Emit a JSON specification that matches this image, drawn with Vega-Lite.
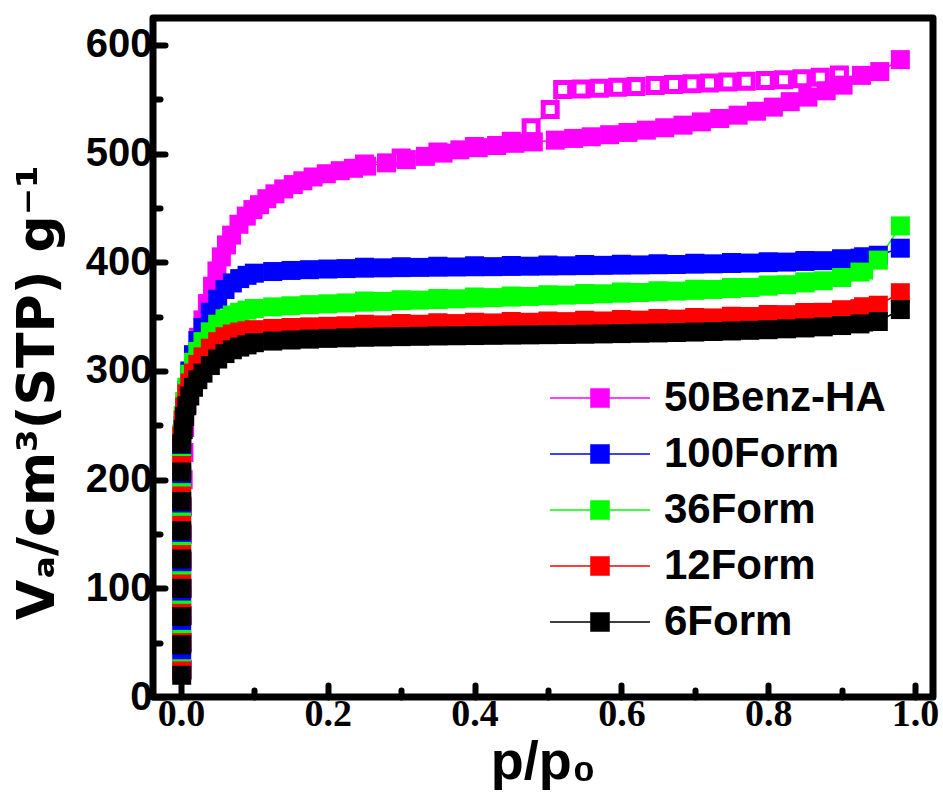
{
  "$schema": "https://vega.github.io/schema/vega-lite/v6.json",
  "width": 780,
  "height": 679,
  "autosize": "none",
  "padding": {"left": 153, "top": 18, "right": 10, "bottom": 98},
  "background": "white",
  "config": {
    "font": "Liberation Sans",
    "view": {"stroke": "black", "strokeWidth": 7, "strokeJoin": "round"},
    "axis": {
      "grid": false,
      "domain": false,
      "tickColor": "black",
      "tickWidth": 6,
      "tickCap": "round",
      "labelFont": "Liberation Sans",
      "labelFontWeight": "bold",
      "labelFontSize": 40,
      "labelColor": "black",
      "titleFont": "Liberation Sans",
      "titleFontWeight": "bold",
      "titleColor": "black",
      "titleFontSize": 54
    }
  },
  "datasets": {
    "iso": [
      {"s":"50Benz-HA","b":"des","x":0.25,"y":490.5},{"s":"50Benz-HA","b":"des","x":0.3,"y":496},{"s":"50Benz-HA","b":"des","x":0.35,"y":501.5},{"s":"50Benz-HA","b":"des","x":0.4,"y":506.5},{"s":"50Benz-HA","b":"des","x":0.45,"y":511.5},{"s":"50Benz-HA","b":"des","x":0.477,"y":523.8},{"s":"50Benz-HA","b":"des","x":0.503,"y":540.7},{"s":"50Benz-HA","b":"des","x":0.52,"y":559},{"s":"50Benz-HA","b":"des","x":0.545,"y":559.5},{"s":"50Benz-HA","b":"des","x":0.57,"y":560.2},{"s":"50Benz-HA","b":"des","x":0.595,"y":561},{"s":"50Benz-HA","b":"des","x":0.62,"y":561.8},{"s":"50Benz-HA","b":"des","x":0.646,"y":562.6},{"s":"50Benz-HA","b":"des","x":0.671,"y":563.5},{"s":"50Benz-HA","b":"des","x":0.696,"y":564.4},{"s":"50Benz-HA","b":"des","x":0.72,"y":565.1},{"s":"50Benz-HA","b":"des","x":0.745,"y":565.8},{"s":"50Benz-HA","b":"des","x":0.77,"y":566.5},{"s":"50Benz-HA","b":"des","x":0.796,"y":567.3},{"s":"50Benz-HA","b":"des","x":0.821,"y":568},{"s":"50Benz-HA","b":"des","x":0.846,"y":568.8},{"s":"50Benz-HA","b":"des","x":0.871,"y":570.2},{"s":"50Benz-HA","b":"des","x":0.897,"y":572.3},
      {"s":"100Form","b":"des","x":0.25,"y":395.5},{"s":"100Form","b":"des","x":0.3,"y":396},{"s":"100Form","b":"des","x":0.35,"y":396.4},{"s":"100Form","b":"des","x":0.4,"y":396.8},{"s":"100Form","b":"des","x":0.45,"y":397.1},{"s":"100Form","b":"des","x":0.5,"y":397.5},{"s":"100Form","b":"des","x":0.55,"y":397.9},{"s":"100Form","b":"des","x":0.6,"y":398.3},{"s":"100Form","b":"des","x":0.65,"y":398.7},{"s":"100Form","b":"des","x":0.7,"y":399.2},{"s":"100Form","b":"des","x":0.75,"y":399.8},{"s":"100Form","b":"des","x":0.8,"y":400.6},{"s":"100Form","b":"des","x":0.85,"y":401.7},{"s":"100Form","b":"des","x":0.9,"y":403.3},{"s":"100Form","b":"des","x":0.93,"y":405},
      {"s":"36Form","b":"des","x":0.25,"y":364.3},{"s":"36Form","b":"des","x":0.3,"y":365.6},{"s":"36Form","b":"des","x":0.35,"y":366.8},{"s":"36Form","b":"des","x":0.4,"y":368},{"s":"36Form","b":"des","x":0.45,"y":369},{"s":"36Form","b":"des","x":0.5,"y":370.2},{"s":"36Form","b":"des","x":0.55,"y":371.4},{"s":"36Form","b":"des","x":0.6,"y":372.6},{"s":"36Form","b":"des","x":0.65,"y":373.8},{"s":"36Form","b":"des","x":0.7,"y":375.2},{"s":"36Form","b":"des","x":0.75,"y":376.8},{"s":"36Form","b":"des","x":0.8,"y":379},{"s":"36Form","b":"des","x":0.85,"y":382},{"s":"36Form","b":"des","x":0.9,"y":387},{"s":"36Form","b":"des","x":0.93,"y":393},
      {"s":"12Form","b":"des","x":0.25,"y":343},{"s":"12Form","b":"des","x":0.3,"y":343.7},{"s":"12Form","b":"des","x":0.35,"y":344.3},{"s":"12Form","b":"des","x":0.4,"y":344.9},{"s":"12Form","b":"des","x":0.45,"y":345.5},{"s":"12Form","b":"des","x":0.5,"y":346.1},{"s":"12Form","b":"des","x":0.55,"y":346.7},{"s":"12Form","b":"des","x":0.6,"y":347.4},{"s":"12Form","b":"des","x":0.65,"y":348.2},{"s":"12Form","b":"des","x":0.7,"y":349.2},{"s":"12Form","b":"des","x":0.75,"y":350.4},{"s":"12Form","b":"des","x":0.8,"y":351.9},{"s":"12Form","b":"des","x":0.85,"y":353.8},{"s":"12Form","b":"des","x":0.9,"y":356.4},{"s":"12Form","b":"des","x":0.93,"y":359},
      {"s":"6Form","b":"des","x":0.25,"y":332},{"s":"6Form","b":"des","x":0.3,"y":332.6},{"s":"6Form","b":"des","x":0.35,"y":333.2},{"s":"6Form","b":"des","x":0.4,"y":333.6},{"s":"6Form","b":"des","x":0.45,"y":334},{"s":"6Form","b":"des","x":0.5,"y":334.4},{"s":"6Form","b":"des","x":0.55,"y":334.8},{"s":"6Form","b":"des","x":0.6,"y":335.4},{"s":"6Form","b":"des","x":0.65,"y":336},{"s":"6Form","b":"des","x":0.7,"y":336.8},{"s":"6Form","b":"des","x":0.75,"y":337.8},{"s":"6Form","b":"des","x":0.8,"y":339},{"s":"6Form","b":"des","x":0.85,"y":340.6},{"s":"6Form","b":"des","x":0.9,"y":342.8},{"s":"6Form","b":"des","x":0.93,"y":345},

      {"s":"50Benz-HA","b":"ads","x":0.002,"y":25},{"s":"50Benz-HA","b":"ads","x":0.002,"y":50},{"s":"50Benz-HA","b":"ads","x":0.002,"y":75},{"s":"50Benz-HA","b":"ads","x":0.002,"y":100},{"s":"50Benz-HA","b":"ads","x":0.002,"y":125},{"s":"50Benz-HA","b":"ads","x":0.002,"y":150},{"s":"50Benz-HA","b":"ads","x":0.002,"y":175},{"s":"50Benz-HA","b":"ads","x":0.003,"y":200},{"s":"50Benz-HA","b":"ads","x":0.004,"y":225},{"s":"50Benz-HA","b":"ads","x":0.005,"y":248},{"s":"50Benz-HA","b":"ads","x":0.008,"y":270},{"s":"50Benz-HA","b":"ads","x":0.012,"y":290},{"s":"50Benz-HA","b":"ads","x":0.018,"y":314},{"s":"50Benz-HA","b":"ads","x":0.024,"y":331},{"s":"50Benz-HA","b":"ads","x":0.03,"y":347},{"s":"50Benz-HA","b":"ads","x":0.036,"y":362},{"s":"50Benz-HA","b":"ads","x":0.043,"y":378},{"s":"50Benz-HA","b":"ads","x":0.049,"y":392},{"s":"50Benz-HA","b":"ads","x":0.055,"y":405},{"s":"50Benz-HA","b":"ads","x":0.062,"y":416},{"s":"50Benz-HA","b":"ads","x":0.069,"y":425},{"s":"50Benz-HA","b":"ads","x":0.079,"y":435},{"s":"50Benz-HA","b":"ads","x":0.089,"y":442.5},{"s":"50Benz-HA","b":"ads","x":0.098,"y":448.5},{"s":"50Benz-HA","b":"ads","x":0.107,"y":453},{"s":"50Benz-HA","b":"ads","x":0.117,"y":458.5},{"s":"50Benz-HA","b":"ads","x":0.128,"y":463},{"s":"50Benz-HA","b":"ads","x":0.14,"y":467.5},{"s":"50Benz-HA","b":"ads","x":0.153,"y":471.5},{"s":"50Benz-HA","b":"ads","x":0.166,"y":475},{"s":"50Benz-HA","b":"ads","x":0.18,"y":478.5},{"s":"50Benz-HA","b":"ads","x":0.198,"y":481.5},{"s":"50Benz-HA","b":"ads","x":0.217,"y":484.3},{"s":"50Benz-HA","b":"ads","x":0.235,"y":486.5},{"s":"50Benz-HA","b":"ads","x":0.253,"y":488.5},{"s":"50Benz-HA","b":"ads","x":0.28,"y":491.5},{"s":"50Benz-HA","b":"ads","x":0.307,"y":494.5},{"s":"50Benz-HA","b":"ads","x":0.333,"y":497.5},{"s":"50Benz-HA","b":"ads","x":0.357,"y":500.5},{"s":"50Benz-HA","b":"ads","x":0.38,"y":503.5},{"s":"50Benz-HA","b":"ads","x":0.405,"y":505.5},{"s":"50Benz-HA","b":"ads","x":0.43,"y":507.5},{"s":"50Benz-HA","b":"ads","x":0.455,"y":509.5},{"s":"50Benz-HA","b":"ads","x":0.48,"y":510.8},{"s":"50Benz-HA","b":"ads","x":0.51,"y":512.4},{"s":"50Benz-HA","b":"ads","x":0.535,"y":514},{"s":"50Benz-HA","b":"ads","x":0.559,"y":515.5},{"s":"50Benz-HA","b":"ads","x":0.584,"y":517.4},{"s":"50Benz-HA","b":"ads","x":0.609,"y":519.5},{"s":"50Benz-HA","b":"ads","x":0.634,"y":521.6},{"s":"50Benz-HA","b":"ads","x":0.659,"y":523.8},{"s":"50Benz-HA","b":"ads","x":0.684,"y":526.2},{"s":"50Benz-HA","b":"ads","x":0.709,"y":529.2},{"s":"50Benz-HA","b":"ads","x":0.734,"y":532.3},{"s":"50Benz-HA","b":"ads","x":0.759,"y":535.4},{"s":"50Benz-HA","b":"ads","x":0.784,"y":539},{"s":"50Benz-HA","b":"ads","x":0.807,"y":542.8},{"s":"50Benz-HA","b":"ads","x":0.83,"y":547.8},{"s":"50Benz-HA","b":"ads","x":0.854,"y":552},{"s":"50Benz-HA","b":"ads","x":0.879,"y":557.8},{"s":"50Benz-HA","b":"ads","x":0.902,"y":563},{"s":"50Benz-HA","b":"ads","x":0.927,"y":572},{"s":"50Benz-HA","b":"ads","x":0.952,"y":575.5},{"s":"50Benz-HA","b":"ads","x":0.98,"y":586.5},

      {"s":"100Form","b":"ads","x":0.001,"y":38},{"s":"100Form","b":"ads","x":0.001,"y":66},{"s":"100Form","b":"ads","x":0.001,"y":93},{"s":"100Form","b":"ads","x":0.001,"y":121},{"s":"100Form","b":"ads","x":0.001,"y":148},{"s":"100Form","b":"ads","x":0.001,"y":176},{"s":"100Form","b":"ads","x":0.001,"y":203},{"s":"100Form","b":"ads","x":0.001,"y":230},
      {"s":"100Form","b":"ads","x":0.003,"y":250},{"s":"100Form","b":"ads","x":0.005,"y":265},{"s":"100Form","b":"ads","x":0.008,"y":282},{"s":"100Form","b":"ads","x":0.012,"y":300},{"s":"100Form","b":"ads","x":0.017,"y":315},{"s":"100Form","b":"ads","x":0.023,"y":328},{"s":"100Form","b":"ads","x":0.03,"y":340},{"s":"100Form","b":"ads","x":0.04,"y":354},{"s":"100Form","b":"ads","x":0.05,"y":366},{"s":"100Form","b":"ads","x":0.06,"y":375},{"s":"100Form","b":"ads","x":0.07,"y":381},{"s":"100Form","b":"ads","x":0.08,"y":385},{"s":"100Form","b":"ads","x":0.09,"y":388},
      {"s":"100Form","b":"ads","x":0.1,"y":390},{"s":"100Form","b":"ads","x":0.125,"y":391.5},{"s":"100Form","b":"ads","x":0.15,"y":392.5},{"s":"100Form","b":"ads","x":0.175,"y":393.2},{"s":"100Form","b":"ads","x":0.2,"y":393.8},{"s":"100Form","b":"ads","x":0.225,"y":394.2},{"s":"100Form","b":"ads","x":0.25,"y":394.6},{"s":"100Form","b":"ads","x":0.275,"y":394.9},{"s":"100Form","b":"ads","x":0.3,"y":395.1},{"s":"100Form","b":"ads","x":0.325,"y":395.3},{"s":"100Form","b":"ads","x":0.35,"y":395.5},{"s":"100Form","b":"ads","x":0.375,"y":395.7},{"s":"100Form","b":"ads","x":0.4,"y":395.9},{"s":"100Form","b":"ads","x":0.425,"y":396},{"s":"100Form","b":"ads","x":0.45,"y":396.2},{"s":"100Form","b":"ads","x":0.475,"y":396.4},{"s":"100Form","b":"ads","x":0.5,"y":396.6},{"s":"100Form","b":"ads","x":0.525,"y":396.8},{"s":"100Form","b":"ads","x":0.55,"y":397},{"s":"100Form","b":"ads","x":0.575,"y":397.2},{"s":"100Form","b":"ads","x":0.6,"y":397.4},{"s":"100Form","b":"ads","x":0.625,"y":397.6},{"s":"100Form","b":"ads","x":0.65,"y":397.8},{"s":"100Form","b":"ads","x":0.675,"y":398},{"s":"100Form","b":"ads","x":0.7,"y":398.3},{"s":"100Form","b":"ads","x":0.725,"y":398.6},{"s":"100Form","b":"ads","x":0.75,"y":398.9},{"s":"100Form","b":"ads","x":0.775,"y":399.3},{"s":"100Form","b":"ads","x":0.8,"y":399.7},{"s":"100Form","b":"ads","x":0.825,"y":400.2},{"s":"100Form","b":"ads","x":0.85,"y":400.8},{"s":"100Form","b":"ads","x":0.875,"y":401.5},{"s":"100Form","b":"ads","x":0.9,"y":402.4},{"s":"100Form","b":"ads","x":0.925,"y":403.8},{"s":"100Form","b":"ads","x":0.95,"y":406.5},{"s":"100Form","b":"ads","x":0.98,"y":413},

      {"s":"36Form","b":"ads","x":0.001,"y":26},{"s":"36Form","b":"ads","x":0.001,"y":53},{"s":"36Form","b":"ads","x":0.001,"y":80},{"s":"36Form","b":"ads","x":0.001,"y":107},{"s":"36Form","b":"ads","x":0.001,"y":134},{"s":"36Form","b":"ads","x":0.001,"y":161},{"s":"36Form","b":"ads","x":0.001,"y":188},{"s":"36Form","b":"ads","x":0.001,"y":215},{"s":"36Form","b":"ads","x":0.001,"y":242},
      {"s":"36Form","b":"ads","x":0.003,"y":259},{"s":"36Form","b":"ads","x":0.005,"y":272},{"s":"36Form","b":"ads","x":0.008,"y":285},{"s":"36Form","b":"ads","x":0.012,"y":297},{"s":"36Form","b":"ads","x":0.017,"y":308},{"s":"36Form","b":"ads","x":0.023,"y":318},{"s":"36Form","b":"ads","x":0.03,"y":327},{"s":"36Form","b":"ads","x":0.04,"y":336},{"s":"36Form","b":"ads","x":0.05,"y":343},{"s":"36Form","b":"ads","x":0.06,"y":348},{"s":"36Form","b":"ads","x":0.07,"y":351.5},{"s":"36Form","b":"ads","x":0.08,"y":354},{"s":"36Form","b":"ads","x":0.09,"y":356},
      {"s":"36Form","b":"ads","x":0.1,"y":357.5},{"s":"36Form","b":"ads","x":0.125,"y":359},{"s":"36Form","b":"ads","x":0.15,"y":360},{"s":"36Form","b":"ads","x":0.175,"y":361},{"s":"36Form","b":"ads","x":0.2,"y":361.8},{"s":"36Form","b":"ads","x":0.225,"y":362.6},{"s":"36Form","b":"ads","x":0.25,"y":363.3},{"s":"36Form","b":"ads","x":0.275,"y":364},{"s":"36Form","b":"ads","x":0.3,"y":364.6},{"s":"36Form","b":"ads","x":0.325,"y":365.2},{"s":"36Form","b":"ads","x":0.35,"y":365.8},{"s":"36Form","b":"ads","x":0.375,"y":366.4},{"s":"36Form","b":"ads","x":0.4,"y":367},{"s":"36Form","b":"ads","x":0.425,"y":367.5},{"s":"36Form","b":"ads","x":0.45,"y":368},{"s":"36Form","b":"ads","x":0.475,"y":368.6},{"s":"36Form","b":"ads","x":0.5,"y":369.2},{"s":"36Form","b":"ads","x":0.525,"y":369.8},{"s":"36Form","b":"ads","x":0.55,"y":370.4},{"s":"36Form","b":"ads","x":0.575,"y":371},{"s":"36Form","b":"ads","x":0.6,"y":371.6},{"s":"36Form","b":"ads","x":0.625,"y":372.2},{"s":"36Form","b":"ads","x":0.65,"y":372.8},{"s":"36Form","b":"ads","x":0.675,"y":373.5},{"s":"36Form","b":"ads","x":0.7,"y":374.2},{"s":"36Form","b":"ads","x":0.725,"y":375},{"s":"36Form","b":"ads","x":0.75,"y":375.8},{"s":"36Form","b":"ads","x":0.775,"y":376.8},{"s":"36Form","b":"ads","x":0.8,"y":378},{"s":"36Form","b":"ads","x":0.825,"y":379.4},{"s":"36Form","b":"ads","x":0.85,"y":381},{"s":"36Form","b":"ads","x":0.875,"y":383},{"s":"36Form","b":"ads","x":0.9,"y":386},{"s":"36Form","b":"ads","x":0.925,"y":391},{"s":"36Form","b":"ads","x":0.95,"y":402},{"s":"36Form","b":"ads","x":0.98,"y":433.5},

      {"s":"12Form","b":"ads","x":0.001,"y":24},{"s":"12Form","b":"ads","x":0.001,"y":50},{"s":"12Form","b":"ads","x":0.001,"y":77},{"s":"12Form","b":"ads","x":0.001,"y":104},{"s":"12Form","b":"ads","x":0.001,"y":131},{"s":"12Form","b":"ads","x":0.001,"y":158},{"s":"12Form","b":"ads","x":0.001,"y":185},{"s":"12Form","b":"ads","x":0.001,"y":213},{"s":"12Form","b":"ads","x":0.001,"y":240},
      {"s":"12Form","b":"ads","x":0.003,"y":255},{"s":"12Form","b":"ads","x":0.005,"y":267},{"s":"12Form","b":"ads","x":0.008,"y":279},{"s":"12Form","b":"ads","x":0.012,"y":289},{"s":"12Form","b":"ads","x":0.017,"y":298},{"s":"12Form","b":"ads","x":0.023,"y":306},{"s":"12Form","b":"ads","x":0.03,"y":313},{"s":"12Form","b":"ads","x":0.04,"y":321},{"s":"12Form","b":"ads","x":0.05,"y":327},{"s":"12Form","b":"ads","x":0.06,"y":331.5},{"s":"12Form","b":"ads","x":0.07,"y":334},{"s":"12Form","b":"ads","x":0.08,"y":335.8},{"s":"12Form","b":"ads","x":0.09,"y":337},
      {"s":"12Form","b":"ads","x":0.1,"y":338},{"s":"12Form","b":"ads","x":0.125,"y":339.2},{"s":"12Form","b":"ads","x":0.15,"y":340},{"s":"12Form","b":"ads","x":0.175,"y":340.6},{"s":"12Form","b":"ads","x":0.2,"y":341.1},{"s":"12Form","b":"ads","x":0.225,"y":341.6},{"s":"12Form","b":"ads","x":0.25,"y":342},{"s":"12Form","b":"ads","x":0.275,"y":342.4},{"s":"12Form","b":"ads","x":0.3,"y":342.7},{"s":"12Form","b":"ads","x":0.325,"y":343},{"s":"12Form","b":"ads","x":0.35,"y":343.3},{"s":"12Form","b":"ads","x":0.375,"y":343.6},{"s":"12Form","b":"ads","x":0.4,"y":343.9},{"s":"12Form","b":"ads","x":0.425,"y":344.2},{"s":"12Form","b":"ads","x":0.45,"y":344.5},{"s":"12Form","b":"ads","x":0.475,"y":344.8},{"s":"12Form","b":"ads","x":0.5,"y":345.1},{"s":"12Form","b":"ads","x":0.525,"y":345.4},{"s":"12Form","b":"ads","x":0.55,"y":345.7},{"s":"12Form","b":"ads","x":0.575,"y":346},{"s":"12Form","b":"ads","x":0.6,"y":346.4},{"s":"12Form","b":"ads","x":0.625,"y":346.8},{"s":"12Form","b":"ads","x":0.65,"y":347.2},{"s":"12Form","b":"ads","x":0.675,"y":347.7},{"s":"12Form","b":"ads","x":0.7,"y":348.2},{"s":"12Form","b":"ads","x":0.725,"y":348.8},{"s":"12Form","b":"ads","x":0.75,"y":349.4},{"s":"12Form","b":"ads","x":0.775,"y":350.1},{"s":"12Form","b":"ads","x":0.8,"y":350.9},{"s":"12Form","b":"ads","x":0.825,"y":351.8},{"s":"12Form","b":"ads","x":0.85,"y":352.8},{"s":"12Form","b":"ads","x":0.875,"y":354},{"s":"12Form","b":"ads","x":0.9,"y":355.4},{"s":"12Form","b":"ads","x":0.925,"y":357.3},{"s":"12Form","b":"ads","x":0.95,"y":360.5},{"s":"12Form","b":"ads","x":0.98,"y":372},

      {"s":"6Form","b":"ads","x":0.001,"y":20},{"s":"6Form","b":"ads","x":0.001,"y":48},{"s":"6Form","b":"ads","x":0.001,"y":74},{"s":"6Form","b":"ads","x":0.001,"y":100},{"s":"6Form","b":"ads","x":0.001,"y":127},{"s":"6Form","b":"ads","x":0.001,"y":153},{"s":"6Form","b":"ads","x":0.001,"y":180},{"s":"6Form","b":"ads","x":0.001,"y":207},{"s":"6Form","b":"ads","x":0.001,"y":233},
      {"s":"6Form","b":"ads","x":0.003,"y":246},{"s":"6Form","b":"ads","x":0.005,"y":258},{"s":"6Form","b":"ads","x":0.008,"y":268},{"s":"6Form","b":"ads","x":0.012,"y":277},{"s":"6Form","b":"ads","x":0.017,"y":285},{"s":"6Form","b":"ads","x":0.023,"y":292},{"s":"6Form","b":"ads","x":0.03,"y":298},{"s":"6Form","b":"ads","x":0.04,"y":305},{"s":"6Form","b":"ads","x":0.05,"y":311},{"s":"6Form","b":"ads","x":0.06,"y":316},{"s":"6Form","b":"ads","x":0.07,"y":319.5},{"s":"6Form","b":"ads","x":0.08,"y":322},{"s":"6Form","b":"ads","x":0.09,"y":324},
      {"s":"6Form","b":"ads","x":0.1,"y":326},{"s":"6Form","b":"ads","x":0.125,"y":327.5},{"s":"6Form","b":"ads","x":0.15,"y":328.5},{"s":"6Form","b":"ads","x":0.175,"y":329.3},{"s":"6Form","b":"ads","x":0.2,"y":330},{"s":"6Form","b":"ads","x":0.225,"y":330.5},{"s":"6Form","b":"ads","x":0.25,"y":331},{"s":"6Form","b":"ads","x":0.275,"y":331.3},{"s":"6Form","b":"ads","x":0.3,"y":331.6},{"s":"6Form","b":"ads","x":0.325,"y":331.9},{"s":"6Form","b":"ads","x":0.35,"y":332.2},{"s":"6Form","b":"ads","x":0.375,"y":332.4},{"s":"6Form","b":"ads","x":0.4,"y":332.6},{"s":"6Form","b":"ads","x":0.425,"y":332.8},{"s":"6Form","b":"ads","x":0.45,"y":333},{"s":"6Form","b":"ads","x":0.475,"y":333.2},{"s":"6Form","b":"ads","x":0.5,"y":333.4},{"s":"6Form","b":"ads","x":0.525,"y":333.6},{"s":"6Form","b":"ads","x":0.55,"y":333.8},{"s":"6Form","b":"ads","x":0.575,"y":334.1},{"s":"6Form","b":"ads","x":0.6,"y":334.4},{"s":"6Form","b":"ads","x":0.625,"y":334.7},{"s":"6Form","b":"ads","x":0.65,"y":335},{"s":"6Form","b":"ads","x":0.675,"y":335.4},{"s":"6Form","b":"ads","x":0.7,"y":335.8},{"s":"6Form","b":"ads","x":0.725,"y":336.3},{"s":"6Form","b":"ads","x":0.75,"y":336.8},{"s":"6Form","b":"ads","x":0.775,"y":337.4},{"s":"6Form","b":"ads","x":0.8,"y":338},{"s":"6Form","b":"ads","x":0.825,"y":338.8},{"s":"6Form","b":"ads","x":0.85,"y":339.6},{"s":"6Form","b":"ads","x":0.875,"y":340.6},{"s":"6Form","b":"ads","x":0.9,"y":341.8},{"s":"6Form","b":"ads","x":0.925,"y":343.3},{"s":"6Form","b":"ads","x":0.95,"y":345.5},{"s":"6Form","b":"ads","x":0.98,"y":356.5}
    ]
  },
  "data": {"name": "iso"},
  "encoding": {
    "color": {
      "field": "s", "type": "nominal",
      "scale": {"domain": ["50Benz-HA", "100Form", "36Form", "12Form", "6Form"], "range": ["#ff00ff", "#0000ff", "#00ff00", "#ff0000", "#000000"]},
      "legend": {
        "orient": "none", "legendX": 426, "legendY": 359, "title": null,
        "symbolType": "M-5.26,0H-1M1,0H5.26M-0.95,-0.95H0.95V0.95H-0.95Z",
        "symbolSize": 361, "symbolStrokeWidth": 1.5,
        "labelFont": "Liberation Sans", "labelFontSize": 42, "labelFontWeight": "bold", "labelColor": "black",
        "labelOffset": 43, "rowPadding": 14, "labelLimit": 400, "padding": 0,
        "encode": {"symbols": {"update": {"fill": {"scale": "color", "field": "value"}, "stroke": {"scale": "color", "field": "value"}, "opacity": {"value": 1}, "fillOpacity": {"value": 1}, "strokeOpacity": {"value": 1}}}}
      }
    }
  },
  "layer": [
    {
      "mark": {"type": "line", "strokeWidth": 1.5},
      "encoding": {
        "x": {"field": "x", "type": "quantitative", "scale": {"domain": [-0.0381, 1.0245], "nice": false, "zero": false}, "axis": null},
        "y": {"field": "y", "type": "quantitative", "scale": {"domain": [0, 624.8], "nice": false, "zero": false}, "axis": null},
        "detail": {"field": "b"}
      }
    },
    {
      "transform": [{"filter": "datum.b === 'des'"}],
      "mark": {"type": "point", "shape": "square", "filled": false, "fill": "white", "fillOpacity": 1, "size": 196, "strokeWidth": 5, "opacity": 1},
      "encoding": {
        "x": {"field": "x", "type": "quantitative", "axis": {"orient": "bottom", "values": [0.1, 0.3, 0.5, 0.7, 0.9], "tickSize": -7, "labels": false, "title": null}},
        "y": {"field": "y", "type": "quantitative", "axis": {"orient": "left", "values": [50, 150, 250, 350, 450, 550], "tickSize": -7, "labels": false, "title": null}}
      }
    },
    {
      "transform": [{"filter": "datum.b === 'ads'"}],
      "mark": {"type": "point", "shape": "square", "filled": true, "size": 361, "strokeWidth": 0, "opacity": 1},
      "encoding": {
        "x": {"field": "x", "type": "quantitative", "axis": {"orient": "bottom", "values": [0, 0.2, 0.4, 0.6, 0.8, 1], "format": ".1f", "tickSize": -12, "labelPadding": 10, "labelFont": "Liberation Sans Narrow", "labelFontSize": 38, "title": "p/p₀", "titlePadding": 2}},
        "y": {"field": "y", "type": "quantitative", "axis": {"orient": "left", "values": [0, 100, 200, 300, 400, 500, 600], "format": "d", "tickSize": -12, "labelPadding": 13, "title": "Vₐ/cm³(STP) g⁻¹", "titleFont": "DejaVu Sans", "titlePadding": 21, "titleFontSize": 52, "titleY": 374}}
      }
    }
  ],
  "resolve": {"axis": {"x": "independent", "y": "independent"}}
}
